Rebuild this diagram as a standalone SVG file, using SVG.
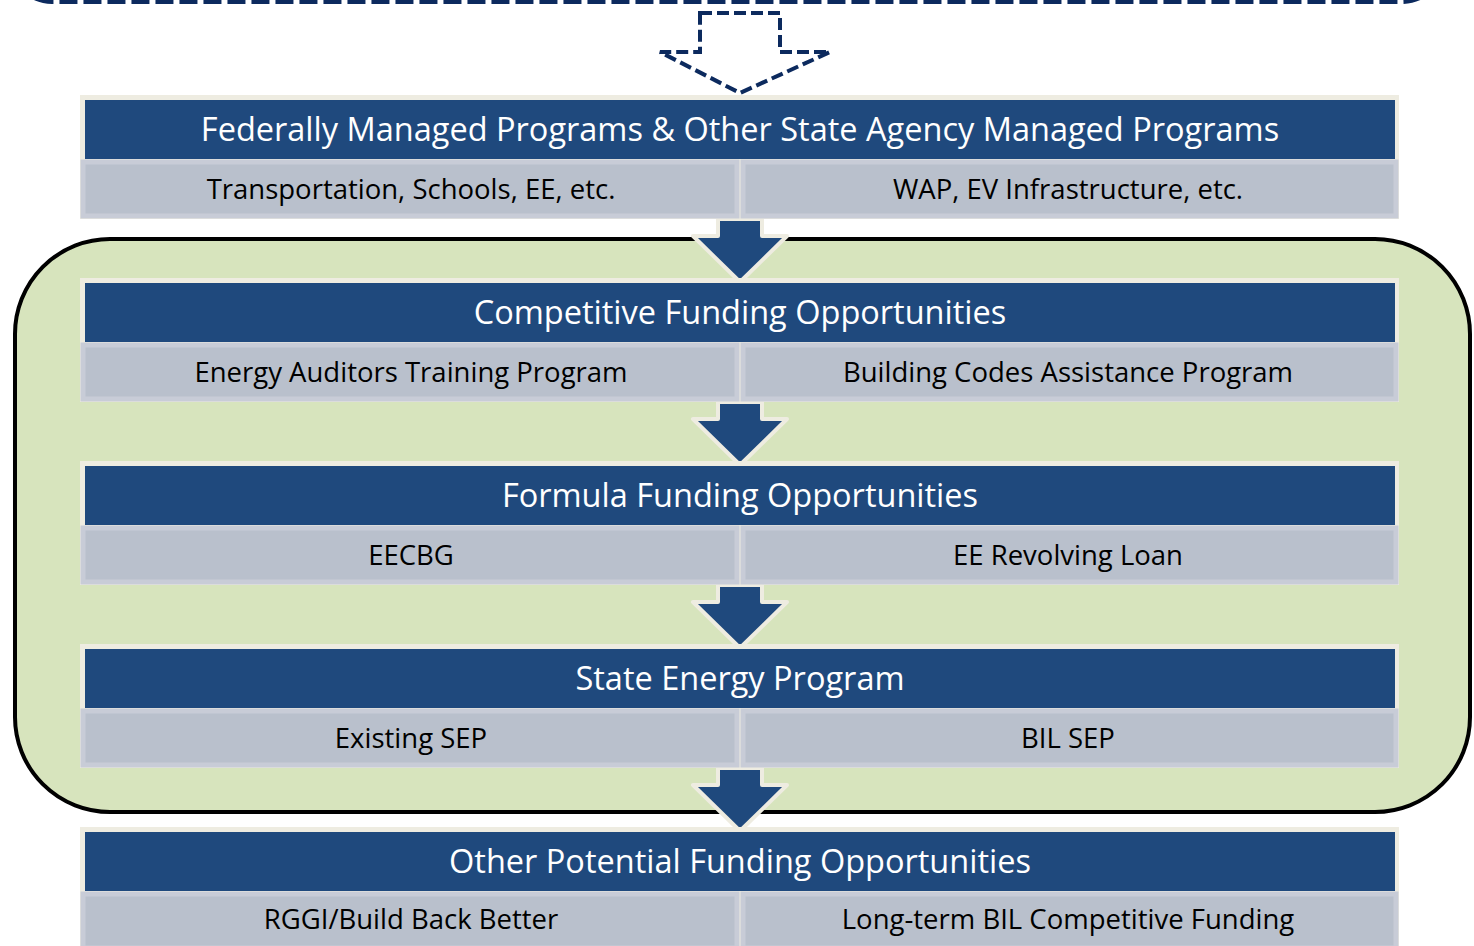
<svg xmlns="http://www.w3.org/2000/svg" width="1474" height="946" viewBox="0 0 1474 946">
<style>
.frame{fill:#eeece1}
.hdr{fill:#1f497d}
.cell{fill:#b9c0cc;stroke:#c8ccd7;stroke-width:5}
.ht{font-family:"Open Sans","Noto Sans",sans-serif;font-size:32.5px;fill:#ffffff;text-anchor:middle;dominant-baseline:central}
.st{font-family:"Open Sans","Noto Sans",sans-serif;font-size:27.5px;fill:#000000;text-anchor:middle;dominant-baseline:central}
.arr{fill:#1f497d;stroke:#eeece1;stroke-width:4;stroke-linejoin:round}
</style>
<rect width="1474" height="946" fill="#ffffff"/>
<rect x="12" y="-300" width="1430" height="300" rx="40" fill="none" stroke="#0c2a5e" stroke-width="8" stroke-dasharray="18 6" stroke-dashoffset="4"/>
<rect id="container" x="15" y="239" width="1455" height="573" rx="95" fill="#d7e4bd" stroke="#000000" stroke-width="4"/>
<g id="connectors">
<path d="M700,13 L780,13 L780,52 L830,52 L740,93 L660,52 L700,52 Z" fill="none" stroke="#0c2a5e" stroke-width="4" stroke-dasharray="12 5"/>
<path class="arr" d="M718,219 L762,219 L762,236 L787,236 L740,282 L693,236 L718,236 Z"/>
<path class="arr" d="M718,402 L762,402 L762,419 L787,419 L740,465 L693,419 L718,419 Z"/>
<path class="arr" d="M718,585 L762,585 L762,602 L787,602 L740,648 L693,602 L718,602 Z"/>
<path class="arr" d="M718,768 L762,768 L762,785 L787,785 L740,831 L693,785 L718,785 Z"/>
</g>
<g id="block1">
<rect class="frame" x="80" y="95" width="1319" height="124"/>
<rect class="hdr" x="85" y="100" width="1310" height="59"/>
<text class="ht" x="740" y="128">Federally Managed Programs &amp; Other State Agency Managed Programs</text>
<rect class="cell" x="83" y="162" width="654" height="54"/>
<rect class="cell" x="743" y="162" width="653" height="54"/>
<text class="st" x="411" y="188">Transportation, Schools, EE, etc.</text>
<text class="st" x="1068" y="188">WAP, EV Infrastructure, etc.</text>
</g>
<g id="block2">
<rect class="frame" x="80" y="278" width="1319" height="124"/>
<rect class="hdr" x="85" y="283" width="1310" height="59"/>
<text class="ht" x="740" y="311">Competitive Funding Opportunities</text>
<rect class="cell" x="83" y="345" width="654" height="54"/>
<rect class="cell" x="743" y="345" width="653" height="54"/>
<text class="st" x="411" y="371">Energy Auditors Training Program</text>
<text class="st" x="1068" y="371">Building Codes Assistance Program</text>
</g>
<g id="block3">
<rect class="frame" x="80" y="461" width="1319" height="124"/>
<rect class="hdr" x="85" y="466" width="1310" height="59"/>
<text class="ht" x="740" y="494">Formula Funding Opportunities</text>
<rect class="cell" x="83" y="528" width="654" height="54"/>
<rect class="cell" x="743" y="528" width="653" height="54"/>
<text class="st" x="411" y="554">EECBG</text>
<text class="st" x="1068" y="554">EE Revolving Loan</text>
</g>
<g id="block4">
<rect class="frame" x="80" y="644" width="1319" height="124"/>
<rect class="hdr" x="85" y="649" width="1310" height="59"/>
<text class="ht" x="740" y="677">State Energy Program</text>
<rect class="cell" x="83" y="711" width="654" height="54"/>
<rect class="cell" x="743" y="711" width="653" height="54"/>
<text class="st" x="411" y="737">Existing SEP</text>
<text class="st" x="1068" y="737">BIL SEP</text>
</g>
<g id="block5">
<rect class="frame" x="80" y="827" width="1319" height="124"/>
<rect class="hdr" x="85" y="832" width="1310" height="59"/>
<text class="ht" x="740" y="860">Other Potential Funding Opportunities</text>
<rect class="cell" x="83" y="894" width="654" height="54"/>
<rect class="cell" x="743" y="894" width="653" height="54"/>
<text class="st" x="411" y="918">RGGI/Build Back Better</text>
<text class="st" x="1068" y="918">Long-term BIL Competitive Funding</text>
</g>
</svg>
